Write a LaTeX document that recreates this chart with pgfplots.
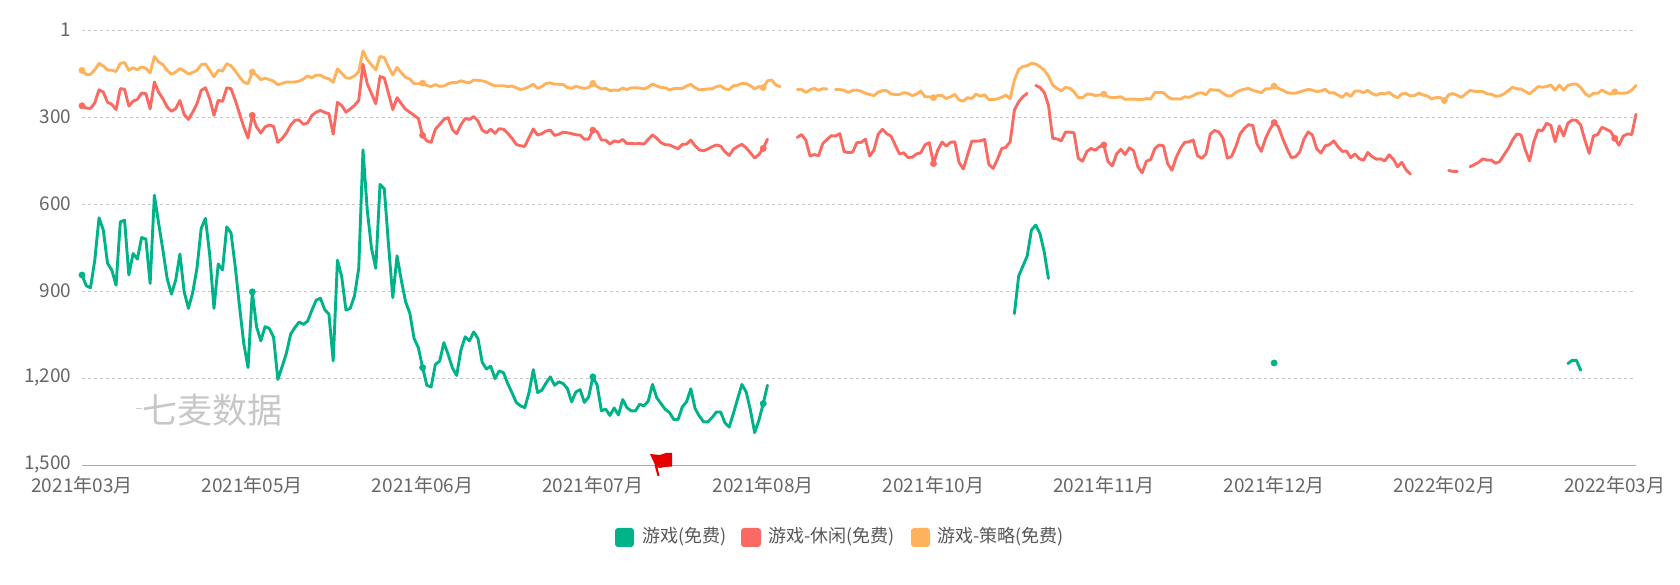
\documentclass[border=0pt]{standalone}
\usepackage{fontspec}
\setmainfont{Noto Sans CJK SC}
\usepackage{pgfplots}
\pgfplotsset{compat=1.18}
\definecolor{gr}{HTML}{00B288}
\definecolor{rd}{HTML}{FA6A62}
\definecolor{og}{HTML}{FFB25C}
\definecolor{txt}{HTML}{666666}
\definecolor{axl}{HTML}{A3ABB8}
\pgfplotsset{
 ser/.style={no markers,line width=2.9pt,line join=round,line cap=round},
 dot/.style={only marks,mark=*,mark size=3.2pt,mark options={draw=none}},
}
\begin{document}
\begin{tikzpicture}[x=1pt,y=1pt]
\useasboundingbox (0,0) rectangle (1680,585);
\begin{axis}[
 at={(82pt,119.3pt)},anchor=south west,scale only axis,
 width=1554pt,height=435.1pt,
 xmin=0,xmax=365,ymin=1,ymax=1500,y dir=reverse,clip=false,
 axis line style={draw=none},tick style={draw=none},major tick length=0pt,
 xtick={0,40,80,120,160,200,240,280,320,360},
 xticklabels={2021年03月,2021年05月,2021年06月,2021年07月,2021年08月,2021年10月,2021年11月,2021年12月,2022年02月,2022年03月},
 ytick={1,300,600,900,1200,1500},
 yticklabels={1,300,600,900,{1,200},{1,500}},
 ymajorgrids,grid style={draw=black!22,line width=1pt,dash pattern=on 3pt off 3pt},
 ticklabel style={font=\fontsize{19}{19}\selectfont,text=txt},
 xticklabel style={yshift=-7.5pt,anchor=north},
 yticklabel style={anchor=east,xshift=-7pt,yshift=1pt},
]
\draw[axl,line width=1.5pt] (axis cs:0,1500) -- (axis cs:365,1500);
% strategy
\addplot[ser,og] coordinates {(0,138)(1,152)(2,152)(3,136)(4,114)(5,123)(6,137)(7,137)(8,142)(9,114)(10,111)(11,138)(12,129)(13,136)(14,126)(15,131)(16,147)(17,90)(18,109)(19,118)(20,138)(21,151)(22,144)(23,132)(24,140)(25,151)(26,145)(27,138)(28,118)(29,116)(30,138)(31,160)(32,138)(33,140)(34,115)(35,122)(36,140)(37,161)(38,179)(39,184)(40,144)(41,155)(42,170)(43,165)(44,170)(45,175)(46,188)(47,183)(48,178)(49,178)(50,178)(51,175)(52,168)(53,157)(54,164)(55,154)(56,155)(57,163)(58,167)(59,179)(60,133)(61,148)(62,164)(63,165)(64,157)(65,142)(66,71)(67,101)(68,119)(69,136)(70,90)(71,94)(72,126)(73,154)(74,128)(75,146)(76,162)(77,168)(78,184)(79,184)(80,182)(81,190)(82,194)(83,187)(84,193)(85,192)(86,184)(87,180)(88,180)(89,174)(90,178)(91,181)(92,171)(93,173)(94,174)(95,178)(96,186)(97,191)(98,191)(99,191)(100,194)(101,192)(102,198)(103,204)(104,201)(105,194)(106,186)(107,200)(108,194)(109,183)(110,181)(111,186)(112,186)(113,187)(114,197)(115,200)(116,193)(117,197)(118,200)(119,197)(120,183)(121,194)(122,202)(123,200)(124,208)(125,206)(126,207)(127,199)(128,204)(129,198)(130,198)(131,199)(132,202)(133,196)(134,185)(135,192)(136,197)(137,198)(138,205)(139,201)(140,200)(141,200)(142,192)(143,186)(144,198)(145,205)(146,204)(147,202)(148,202)(149,194)(150,191)(151,202)(152,204)(153,191)(154,189)(155,183)(156,184)(157,191)(158,202)(159,194)(160,197)(161,174)(162,171)(163,189)(164,194)};
\addplot[ser,og] coordinates {(168,204)(169,204)(170,214)(171,205)(172,200)(173,207)(174,201)(175,202)};
\addplot[ser,og] coordinates {(177,204)(178,204)(179,207)(180,214)(181,207)(182,206)(183,210)(184,217)(185,221)(186,225)(187,213)(188,208)(189,208)(190,219)(191,221)(192,221)(193,215)(194,217)(195,225)(196,220)(197,209)(198,229)(199,229)(200,232)(201,225)(202,225)(203,235)(204,229)(205,221)(206,240)(207,244)(208,232)(209,235)(210,220)(211,227)(212,222)(213,239)(214,239)(215,236)(216,231)(217,223)(218,236)(219,171)(220,135)(221,125)(222,122)(223,114)(224,116)(225,125)(226,137)(227,158)(228,189)(229,200)(230,209)(231,197)(232,199)(233,212)(234,232)(235,232)(236,220)(237,220)(238,225)(239,223)(240,220)(241,229)(242,232)(243,231)(244,229)(245,238)(246,237)(247,237)(248,238)(249,239)(250,235)(251,237)(252,214)(253,214)(254,215)(255,229)(256,236)(257,236)(258,237)(259,229)(260,231)(261,225)(262,217)(263,215)(264,222)(265,204)(266,206)(267,206)(268,217)(269,226)(270,226)(271,214)(272,207)(273,203)(274,200)(275,207)(276,211)(277,215)(278,202)(279,202)(280,192)(281,200)(282,206)(283,214)(284,217)(285,217)(286,212)(287,208)(288,203)(289,206)(290,211)(291,209)(292,203)(293,216)(294,215)(295,223)(296,231)(297,217)(298,228)(299,209)(300,209)(301,215)(302,207)(303,218)(304,224)(305,217)(306,219)(307,214)(308,225)(309,232)(310,219)(311,218)(312,226)(313,225)(314,216)(315,223)(316,226)(317,237)(318,232)(319,232)(320,242)(321,222)(322,218)(323,224)(324,231)(325,219)(326,207)(327,210)(328,211)(329,211)(330,219)(331,220)(332,227)(333,226)(334,219)(335,208)(336,196)(337,202)(338,202)(339,211)(340,219)(341,207)(342,194)(343,196)(344,194)(345,188)(346,206)(347,189)(348,206)(349,190)(350,186)(351,185)(352,197)(353,217)(354,228)(355,217)(356,217)(357,206)(358,214)(359,220)(360,212)(361,217)(362,217)(363,215)(364,206)(365,190)};
\addplot[dot,og] coordinates {(0,138)(40,144)(80,182)(120,183)(160,197)(200,232)(240,220)(280,192)(320,242)(360,212)};
% casual
\addplot[ser,rd] coordinates {(0,260)(1,268)(2,269)(3,250)(4,205)(5,213)(6,248)(7,255)(8,273)(9,201)(10,203)(11,261)(12,244)(13,238)(14,216)(15,218)(16,271)(17,178)(18,213)(19,236)(20,264)(21,279)(22,270)(23,242)(24,290)(25,307)(26,282)(27,253)(28,207)(29,198)(30,236)(31,293)(32,241)(33,245)(34,198)(35,201)(36,241)(37,287)(38,333)(39,371)(40,293)(41,333)(42,354)(43,333)(44,326)(45,331)(46,386)(47,373)(48,354)(49,327)(50,310)(51,309)(52,324)(53,319)(54,293)(55,282)(56,276)(57,283)(58,287)(59,358)(60,248)(61,259)(62,282)(63,271)(64,259)(65,241)(66,117)(67,184)(68,218)(69,253)(70,159)(71,164)(72,218)(73,273)(74,232)(75,253)(76,272)(77,282)(78,293)(79,304)(80,362)(81,381)(82,386)(83,341)(84,324)(85,307)(86,301)(87,342)(88,356)(89,325)(90,304)(91,307)(92,297)(93,312)(94,344)(95,353)(96,341)(97,355)(98,339)(99,341)(100,355)(101,372)(102,393)(103,398)(104,400)(105,369)(106,340)(107,361)(108,356)(109,347)(110,344)(111,362)(112,358)(113,351)(114,353)(115,356)(116,360)(117,361)(118,375)(119,375)(120,344)(121,349)(122,378)(123,378)(124,392)(125,381)(126,385)(127,376)(128,390)(129,390)(130,391)(131,390)(132,392)(133,376)(134,360)(135,372)(136,387)(137,394)(138,395)(139,402)(140,408)(141,393)(142,392)(143,378)(144,398)(145,412)(146,415)(147,409)(148,401)(149,395)(150,399)(151,418)(152,431)(153,410)(154,400)(155,393)(156,405)(157,422)(158,440)(159,428)(160,407)(161,375)};
\addplot[ser,rd] coordinates {(168,369)(169,359)(170,378)(171,433)(172,428)(173,432)(174,390)(175,376)(176,363)(177,364)(178,356)(179,418)(180,421)(181,420)(182,387)(183,386)(184,375)(185,433)(186,413)(187,358)(188,341)(189,356)(190,364)(191,395)(192,426)(193,422)(194,438)(195,437)(196,426)(197,422)(198,395)(199,387)(200,459)(201,413)(202,385)(203,399)(204,386)(205,384)(206,455)(207,478)(208,430)(209,382)(210,382)(211,381)(212,376)(213,462)(214,476)(215,445)(216,408)(217,403)(218,384)(219,275)(220,246)(221,229)(222,217)};
\addplot[ser,rd] coordinates {(224,190)(225,197)(226,214)(227,258)(228,372)(229,374)(230,381)(231,351)(232,351)(233,353)(234,441)(235,451)(236,418)(237,407)(238,413)(239,401)(240,395)(241,453)(242,467)(243,426)(244,410)(245,428)(246,405)(247,415)(248,470)(249,491)(250,451)(251,445)(252,407)(253,395)(254,398)(255,459)(256,482)(257,438)(258,407)(259,386)(260,384)(261,378)(262,432)(263,441)(264,426)(265,358)(266,345)(267,350)(268,372)(269,440)(270,435)(271,401)(272,357)(273,338)(274,325)(275,328)(276,392)(277,417)(278,372)(279,341)(280,318)(281,332)(282,372)(283,407)(284,438)(285,436)(286,420)(287,375)(288,350)(289,361)(290,408)(291,423)(292,398)(293,394)(294,381)(295,401)(296,417)(297,416)(298,439)(299,426)(300,442)(301,448)(302,421)(303,435)(304,444)(305,443)(306,450)(307,429)(308,444)(309,470)(310,455)(311,481)(312,495)};
\addplot[ser,rd] coordinates {(321,483)(322,486)(323,486)};
\addplot[ser,rd] coordinates {(326,470)(327,463)(328,455)(329,443)(330,447)(331,447)(332,458)(333,452)(334,429)(335,407)(336,378)(337,357)(338,361)(339,412)(340,450)(341,384)(342,343)(343,346)(344,320)(345,328)(346,384)(347,330)(348,364)(349,320)(350,309)(351,310)(352,326)(353,378)(354,424)(355,364)(356,359)(357,334)(358,341)(359,348)(360,372)(361,396)(362,364)(363,357)(364,359)(365,289)};
\addplot[dot,rd] coordinates {(0,260)(40,293)(80,362)(120,344)(160,407)(200,459)(240,395)(280,318)(360,372)};
% all games
\addplot[ser,gr] coordinates {(0,843)(1,880)(2,887)(3,792)(4,646)(5,688)(6,803)(7,826)(8,878)(9,660)(10,654)(11,843)(12,769)(13,788)(14,714)(15,719)(16,872)(17,568)(18,665)(19,757)(20,855)(21,909)(22,861)(23,771)(24,901)(25,958)(26,904)(27,820)(28,682)(29,648)(30,774)(31,958)(32,805)(33,826)(34,677)(35,698)(36,815)(37,952)(38,1079)(39,1162)(40,901)(41,1021)(42,1070)(43,1021)(44,1027)(45,1058)(46,1203)(47,1159)(48,1113)(49,1047)(50,1024)(51,1005)(52,1013)(53,1002)(54,964)(55,930)(56,923)(57,962)(58,978)(59,1139)(60,792)(61,849)(62,964)(63,958)(64,915)(65,820)(66,412)(67,619)(68,751)(69,820)(70,531)(71,546)(72,740)(73,921)(74,777)(75,861)(76,935)(77,975)(78,1062)(79,1093)(80,1162)(81,1223)(82,1229)(83,1151)(84,1140)(85,1076)(86,1117)(87,1163)(88,1189)(89,1102)(90,1056)(91,1070)(92,1039)(93,1062)(94,1144)(95,1167)(96,1157)(97,1200)(98,1173)(99,1180)(100,1217)(101,1249)(102,1282)(103,1294)(104,1300)(105,1248)(106,1169)(107,1248)(108,1240)(109,1215)(110,1194)(111,1223)(112,1211)(113,1217)(114,1234)(115,1280)(116,1246)(117,1238)(118,1282)(119,1263)(120,1194)(121,1223)(122,1311)(123,1305)(124,1327)(125,1301)(126,1325)(127,1272)(128,1300)(129,1311)(130,1311)(131,1288)(132,1294)(133,1277)(134,1220)(135,1266)(136,1286)(137,1306)(138,1317)(139,1341)(140,1341)(141,1297)(142,1280)(143,1235)(144,1303)(145,1329)(146,1349)(147,1349)(148,1334)(149,1315)(150,1315)(151,1352)(152,1367)(153,1320)(154,1269)(155,1220)(156,1246)(157,1309)(158,1386)(159,1343)(160,1286)(161,1223)};
\addplot[ser,gr] coordinates {(219,976)(220,847)(221,812)(222,778)(223,688)(224,671)(225,700)(226,763)(227,855)};
\addplot[ser,gr] coordinates {(349,1148)(350,1137)(351,1137)(352,1171)};
\addplot[dot,gr] coordinates {(0,843)(40,901)(80,1162)(120,1194)(160,1286)(280,1146)};
\end{axis}
% watermark
\node[anchor=center,text=black!22,font=\fontsize{35}{35}\selectfont,inner sep=0] at (212,175) {七麦数据};
\draw[black!18,line width=0.8pt] (136,177) -- (142,177);
% flag
\fill[red!90!black] (650,131) -- (660,130) -- (666,132) -- (672,132) -- (672,118.5) -- (665,118) -- (660,117) -- (656,118) -- cycle;
\fill[red!90!black] (654.5,120) -- (657,120) -- (659.5,109) -- (657.5,109) -- cycle;
% legend
\fill[gr,rounded corners=3pt] (615,38) rectangle (634,57);
\node[anchor=west,inner sep=0,text=txt!85!black,font=\fontsize{18}{18}\selectfont] at (642,48) {游戏(免费)};
\fill[rd,rounded corners=3pt] (741,38) rectangle (761,57);
\node[anchor=west,inner sep=0,text=txt!85!black,font=\fontsize{18}{18}\selectfont] at (768,48) {游戏-休闲(免费)};
\fill[og,rounded corners=3pt] (911,38) rectangle (930,57);
\node[anchor=west,inner sep=0,text=txt!85!black,font=\fontsize{18}{18}\selectfont] at (937,48) {游戏-策略(免费)};
\end{tikzpicture}
\end{document}
